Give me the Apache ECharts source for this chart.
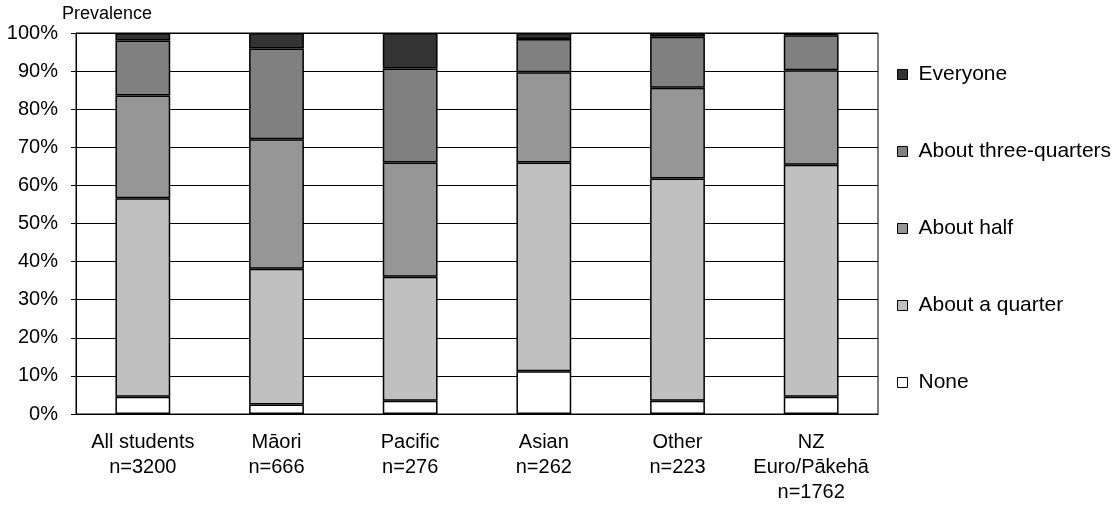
<!DOCTYPE html>
<html>
<head>
<meta charset="utf-8">
<title>Prevalence by ethnic group</title>
<script src="https://cdn.jsdelivr.net/npm/echarts@6/dist/echarts.min.js"></script>
<style>
  html, body { margin: 0; padding: 0; background: #ffffff; }
  #chart { width: 1120px; height: 511px; }
</style>
</head>
<body>
<div id="chart"></div>
<script>
// Student groups along the x axis, with sample sizes shown underneath
const categories = ['All students', 'Māori', 'Pacific', 'Asian', 'Other', 'NZ\nEuro/Pākehā'];
const sampleSizes = ['n=3200', 'n=666', 'n=276', 'n=262', 'n=223', 'n=1762'];

// Percentage of students in each response band (stacked bottom to top)
const none = [4.5, 2.5, 3.5, 11.2, 3.5, 4.5];
const aboutQuarter = [52.1, 35.6, 32.5, 54.8, 58.3, 60.9];
const aboutHalf = [27.0, 34.0, 30.0, 23.7, 23.8, 24.8];
const aboutThreeQuarters = [14.4, 23.8, 24.7, 8.7, 13.4, 9.2];
const everyone = [2.0, 4.1, 9.3, 1.6, 1.0, 0.6];

const legendOrder = ['Everyone', 'About three-quarters', 'About half', 'About a quarter', 'None'];

const FONT = 'Liberation Sans, Arial, sans-serif';

function band(name, data, color) {
  return {
    name: name,
    type: 'bar',
    stack: 'total',
    barWidth: '41%',
    data: data,
    itemStyle: { color: color, borderColor: '#000000', borderWidth: 1.5 },
    emphasis: { disabled: true }
  };
}

const chart = echarts.init(document.getElementById('chart'), null, { renderer: 'canvas' });

chart.setOption({
  animation: false,
  backgroundColor: '#ffffff',
  title: {
    text: 'Prevalence',
    left: 62,
    top: 5,
    padding: 0,
    textStyle: { fontFamily: FONT, fontSize: 18, fontWeight: 'normal', color: '#000' }
  },
  legend: {
    orient: 'vertical',
    left: 897,
    top: 64,
    padding: 0,
    itemWidth: 10,
    itemHeight: 10,
    itemGap: 56,
    icon: 'rect',
    data: legendOrder,
    selectedMode: false,
    itemStyle: { borderColor: '#000000', borderWidth: 1 },
    textStyle: { fontFamily: FONT, fontSize: 21, lineHeight: 20, color: '#000', padding: [0, 0, 0, 6] }
  },
  grid: {
    left: 76,
    right: 242,
    top: 33,
    bottom: 97,
    show: true,
    borderColor: '#000000',
    borderWidth: 1,
    backgroundColor: 'transparent'
  },
  xAxis: {
    type: 'category',
    data: categories,
    axisTick: { show: false },
    axisLine: { lineStyle: { color: '#000', width: 1 } },
    axisLabel: {
      interval: 0,
      margin: 16,
      fontFamily: FONT,
      fontSize: 20,
      lineHeight: 25,
      color: '#000',
      formatter: function (value, idx) { return value + '\n' + sampleSizes[idx]; }
    }
  },
  yAxis: {
    type: 'value',
    min: 0,
    max: 100,
    interval: 10,
    axisLine: { show: true, lineStyle: { color: '#000', width: 1 } },
    axisTick: { show: true, length: 5, lineStyle: { color: '#000' } },
    splitLine: { show: true, lineStyle: { color: '#000', width: 1 } },
    axisLabel: {
      margin: 18,
      fontFamily: FONT,
      fontSize: 20,
      color: '#000',
      formatter: '{value}%'
    }
  },
  series: [
    band('None', none, '#ffffff'),
    band('About a quarter', aboutQuarter, '#c0c0c0'),
    band('About half', aboutHalf, '#969696'),
    band('About three-quarters', aboutThreeQuarters, '#808080'),
    band('Everyone', everyone, '#333333')
  ]
});
</script>
</body>
</html>
